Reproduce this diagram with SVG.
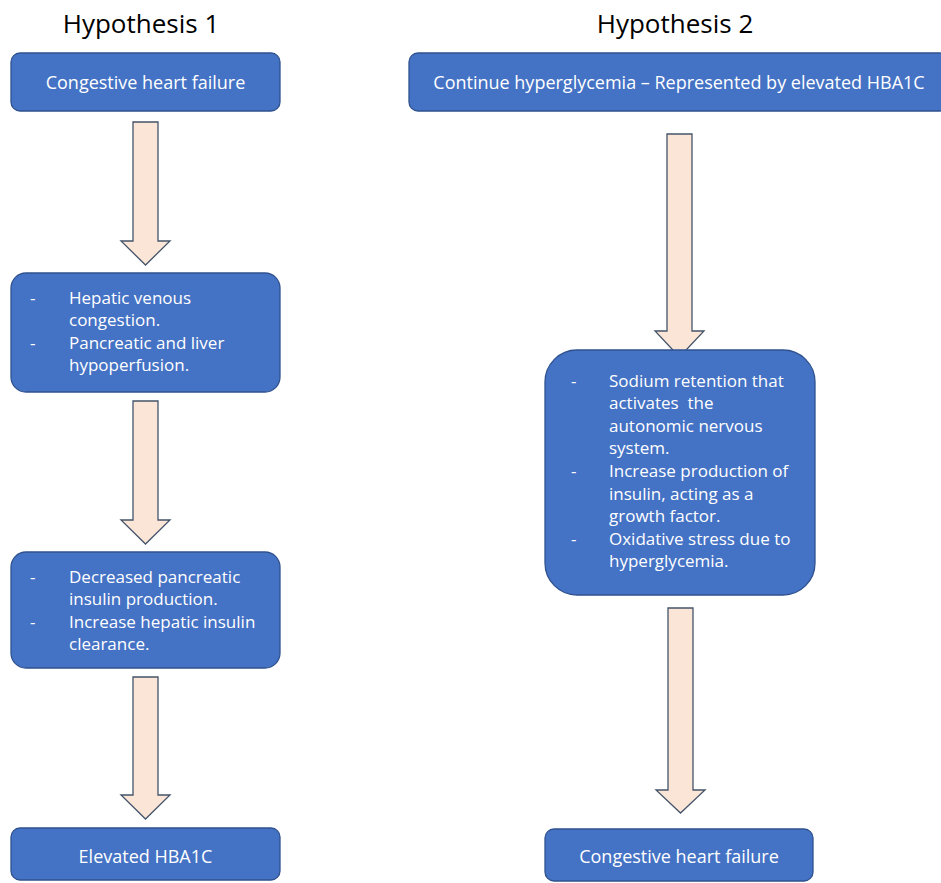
<svg xmlns="http://www.w3.org/2000/svg" width="941" height="883" viewBox="0 0 941 883">
<style>
.box{fill:#4472C4;stroke:#2F528F;stroke-width:1.3}
.t{font-family:"Open Sans","Liberation Sans",sans-serif;font-size:17px;fill:#ffffff}
.c{text-anchor:middle;font-size:18px}
.h{font-family:"Open Sans","Liberation Sans",sans-serif;font-size:26px;fill:#000000;text-anchor:middle}
.arr{fill:#FBE5D6;stroke:#44546A;stroke-width:1.3;stroke-linejoin:miter}
</style>
<rect width="941" height="883" fill="#ffffff"/>
<text class="h" x="141" y="33">Hypothesis 1</text>
<text class="h" x="675" y="33">Hypothesis 2</text>

<g id="connectors">
<path class="arr" d="M133,122 H158 V241 H170 L145.5,265 L121,241 H133 Z"/>
<path class="arr" d="M133,401 H158 V520 H170 L145.5,544 L121,520 H133 Z"/>
<path class="arr" d="M133,677 H158 V795 H170 L145.5,819 L121,795 H133 Z"/>
<path class="arr" d="M667,134 H692 V331 H704 L679.5,357 L655,331 H667 Z"/>
<path class="arr" d="M668,608 H693 V790 H705 L680.5,813 L656,790 H668 Z"/>
</g>

<g id="h1-chf">
<rect class="box" x="11" y="53" width="269" height="58" rx="9"/>
<text class="t c" x="145.5" y="89">Congestive heart failure</text>
</g>

<g id="h1-congestion">
<rect class="box" x="11" y="273" width="269" height="119" rx="15"/>
<text class="t" x="30" y="304">-</text>
<text class="t" x="69" y="304">Hepatic venous</text>
<text class="t" x="69" y="326">congestion.</text>
<text class="t" x="30" y="349">-</text>
<text class="t" x="69" y="349">Pancreatic and liver</text>
<text class="t" x="69" y="371">hypoperfusion.</text>
</g>

<g id="h1-insulin">
<rect class="box" x="11" y="552" width="269" height="116" rx="15"/>
<text class="t" x="30" y="583">-</text>
<text class="t" x="69" y="583">Decreased pancreatic</text>
<text class="t" x="69" y="605">insulin production.</text>
<text class="t" x="30" y="628">-</text>
<text class="t" x="69" y="628">Increase hepatic insulin</text>
<text class="t" x="69" y="650">clearance.</text>
</g>

<g id="h1-hba1c">
<rect class="box" x="11" y="828" width="269" height="52" rx="9"/>
<text class="t c" x="145.5" y="863">Elevated HBA1C</text>
</g>

<g id="h2-hyperglycemia">
<rect class="box" x="409" y="53" width="540" height="58" rx="9"/>
<text class="t c" x="679" y="89">Continue hyperglycemia – Represented by elevated HBA1C</text>
</g>

<g id="h2-mechanisms">
<rect class="box" x="545" y="350" width="270" height="245" rx="32"/>
<text class="t" x="571" y="387">-</text>
<text class="t" x="609" y="387">Sodium retention that</text>
<text class="t" x="609" y="409" xml:space="preserve">activates  the</text>
<text class="t" x="609" y="432">autonomic nervous</text>
<text class="t" x="609" y="454">system.</text>
<text class="t" x="571" y="477">-</text>
<text class="t" x="609" y="477">Increase production of</text>
<text class="t" x="609" y="500">insulin, acting as a</text>
<text class="t" x="609" y="522">growth factor.</text>
<text class="t" x="571" y="545">-</text>
<text class="t" x="609" y="545">Oxidative stress due to</text>
<text class="t" x="609" y="567">hyperglycemia.</text>
</g>

<g id="h2-chf">
<rect class="box" x="545" y="829" width="268" height="52" rx="9"/>
<text class="t c" x="679" y="863">Congestive heart failure</text>
</g>
</svg>
